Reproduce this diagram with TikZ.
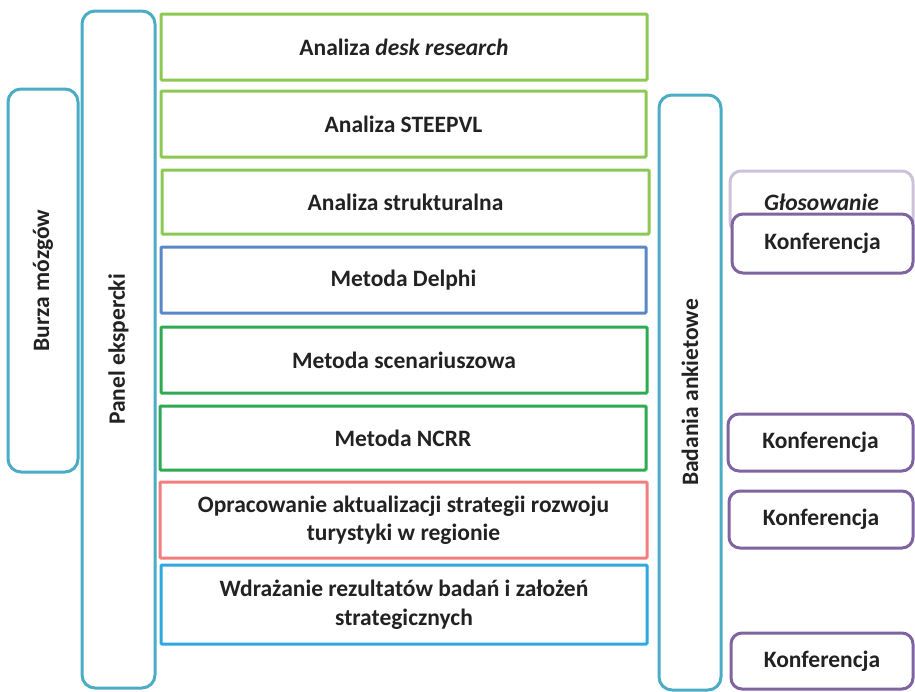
\documentclass[tikz,border=0pt]{standalone}
\usepackage{fontspec}
\setmainfont{Carlito}
\definecolor{teal}{HTML}{4BACC6}
\definecolor{lgreen}{HTML}{8DC853}
\definecolor{dblue}{HTML}{5A87C8}
\definecolor{mgreen}{HTML}{2EAA52}
\definecolor{salmon}{HTML}{F27E7E}
\definecolor{sky}{HTML}{2EA8E0}
\definecolor{violet}{HTML}{8064A2}
\definecolor{lviolet}{HTML}{CDC1DC}
\definecolor{ink}{HTML}{222222}
\begin{document}
\begin{tikzpicture}[x=1pt,y=-1pt,
  every node/.style={font=\fontsize{23.5}{28.5}\selectfont\bfseries, text=ink, align=center, inner sep=0pt},
  stepbox/.style={draw=#1, line width=3pt, fill=white, rectangle, rounded corners=1pt},
  pillbox/.style={draw=teal, line width=3pt, fill=white, rectangle, rounded corners=13pt},
  confbox/.style={draw=#1, line width=3pt, fill=white, rectangle, rounded corners=11pt}]
\useasboundingbox (0,0) rectangle (915,691);

% side columns
\node[pillbox, minimum width=70, minimum height=383] (burza) at (43,280.5) {\rotatebox{90}{Burza mózgów}};
\node[pillbox, minimum width=73, minimum height=677] (panel) at (118.5,349.5) {\rotatebox{90}{Panel ekspercki}};
\node[pillbox, minimum width=62, minimum height=595] (badania) at (690,392.5) {\rotatebox{90}{Badania ankietowe}};

% central steps
\node[stepbox=lgreen, minimum width=486, minimum height=66] (s1) at (404,47) {Analiza \textit{desk research}};
\node[stepbox=lgreen, minimum width=485, minimum height=66] (s2) at (403.5,124) {Analiza STEEPVL};
\node[stepbox=lgreen, minimum width=487, minimum height=64] (s3) at (405.5,202) {Analiza strukturalna};
\node[stepbox=dblue, minimum width=485, minimum height=66] (s4) at (403.5,280) {Metoda Delphi};
\node[stepbox=mgreen, minimum width=486, minimum height=66] (s5) at (404,360) {Metoda scenariuszowa};
\node[stepbox=mgreen, minimum width=486, minimum height=64] (s6) at (403,438) {Metoda NCRR};
\node[stepbox=salmon, minimum width=487, minimum height=76] (s7) at (403.5,520) {Opracowanie aktualizacji strategii rozwoju\\turystyki w regionie};
\node[stepbox=sky, minimum width=486, minimum height=79] (s8) at (404,604.5) {Wdrażanie rezultatów badań i założeń\\strategicznych};

% right column
\node[confbox=lviolet, minimum width=183, minimum height=62] (glos) at (821.5,202) {\textit{Głosowanie}};
\node[confbox=violet, minimum width=181, minimum height=59] (k1) at (822.5,243.5) {Konferencja};
\node[confbox=violet, minimum width=185, minimum height=57] (k2) at (820.5,442.5) {Konferencja};
\node[confbox=violet, minimum width=184, minimum height=57] (k3) at (821,519.5) {Konferencja};
\node[confbox=violet, minimum width=182, minimum height=56] (k4) at (822,661) {Konferencja};
\end{tikzpicture}
\end{document}
